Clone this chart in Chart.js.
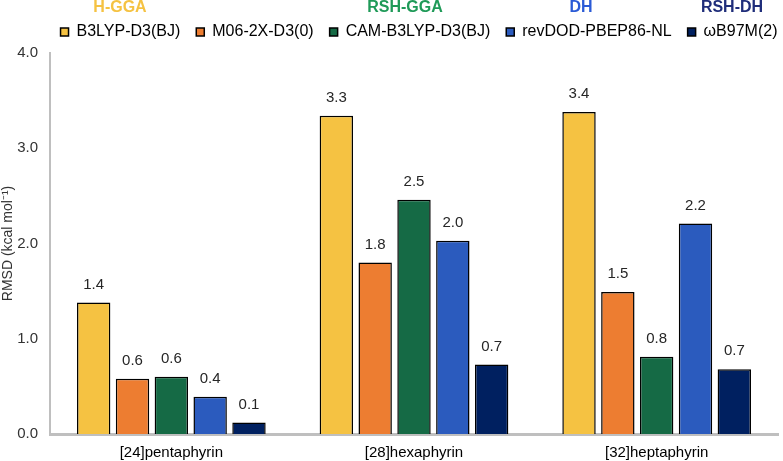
<!DOCTYPE html>
<html>
<head>
<meta charset="utf-8">
<script src="https://cdn.jsdelivr.net/npm/chart.js@4.4.1/dist/chart.umd.min.js"></script>
<style>
  html, body { margin: 0; padding: 0; background: #fff; }
  #wrap { width: 783px; height: 461px; position: relative; }
</style>
</head>
<body>
<div id="wrap"><canvas id="rmsdChart"></canvas></div>
<script>
// data
const categories = ['[24]pentaphyrin', '[28]hexaphyrin', '[32]heptaphyrin'];
const methods = ['B3LYP-D3(BJ)', 'M06-2X-D3(0)', 'CAM-B3LYP-D3(BJ)', 'revDOD-PBEP86-NL', 'ωB97M(2)'];
const b3lyp = [1.38, 3.34, 3.38];
const m062x = [0.58, 1.80, 1.49];
const camb3lyp = [0.60, 2.46, 0.81];
const revdod = [0.39, 2.03, 2.21];
const wb97m = [0.12, 0.73, 0.68];
const yTicks = [0, 1, 2, 3, 4];
const families = ['H-GGA', 'RSH-GGA', 'DH', 'RSH-DH'];

const barColors = ['#F5C242', '#ED7D31', '#156A45', '#2B5BBE', '#002060'];
const familyColors = ['#F5C242', '#1F9A58', '#2B5BD6', '#1F2D7A'];
const familyX = [120, 405, 581, 732];

const seriesValues = [b3lyp, m062x, camb3lyp, revdod, wb97m];
const FONT = 'Liberation Sans, Arial, sans-serif';

// value labels above each bar
const valueLabels = {
  id: 'valueLabels',
  afterDatasetsDraw(chart) {
    const ctx = chart.ctx;
    ctx.save();
    ctx.font = '15px ' + FONT;
    ctx.fillStyle = '#262626';
    ctx.textAlign = 'center';
    ctx.textBaseline = 'middle';
    chart.data.datasets.forEach(function (ds, i) {
      chart.getDatasetMeta(i).data.forEach(function (bar, j) {
        ctx.fillText(ds.data[j].toFixed(1), bar.x, bar.y - 18);
      });
    });
    ctx.restore();
  }
};

// functional family headings over the legend
const familyHeaders = {
  id: 'familyHeaders',
  afterDraw(chart) {
    const ctx = chart.ctx;
    ctx.save();
    ctx.font = 'bold 16px ' + FONT;
    ctx.textAlign = 'center';
    ctx.textBaseline = 'middle';
    families.forEach(function (name, i) {
      ctx.fillStyle = familyColors[i];
      ctx.fillText(name, familyX[i], 8);
    });
    ctx.restore();
  }
};

// fixed legend height and a small shift to the right
const legendBox = {
  id: 'legendBox',
  beforeInit(chart) {
    const fit = chart.legend.fit;
    chart.legend.fit = function () {
      fit.bind(chart.legend)();
      this.height = 45;
    };
  },
  afterLayout(chart) {
    chart.legend.left += 30;
    chart.legend.right += 30;
  }
};

const ctx = document.getElementById('rmsdChart').getContext('2d');
const rmsdChart = new Chart(ctx, {
  type: 'bar',
  data: {
    labels: categories,
    datasets: methods.map(function (m, i) {
      return {
        label: m,
        data: seriesValues[i],
        backgroundColor: barColors[i],
        borderColor: '#000000',
        borderWidth: 1.5,
        borderSkipped: 'bottom',
        categoryPercentage: 0.8,
        barPercentage: 0.86
      };
    })
  },
  options: {
    responsive: true,
    maintainAspectRatio: false,
    animation: false,
    layout: { padding: { top: 8, right: 5, bottom: 0, left: 0 } },
    plugins: {
      legend: {
        position: 'top',
        labels: {
          boxWidth: 8,
          boxHeight: 8,
          padding: 16,
          color: '#000',
          font: { family: FONT, size: 16 }
        }
      },
      tooltip: { enabled: false }
    },
    scales: {
      x: {
        grid: { display: false, drawTicks: false },
        border: { color: '#BFBFBF', width: 3 },
        ticks: { color: '#000', padding: 10, font: { family: FONT, size: 15 } },
        afterFit(scale) { scale.height = 27; }
      },
      y: {
        min: 0,
        max: 4,
        afterBuildTicks(scale) { scale.ticks = yTicks.map(function (v) { return { value: v }; }); },
        grid: { display: false, drawTicks: false },
        border: { color: '#BFBFBF', width: 2 },
        ticks: {
          color: '#333',
          padding: 12,
          font: { family: FONT, size: 15 },
          callback: function (v) { return v.toFixed(1); }
        },
        title: {
          display: true,
          text: 'RMSD (kcal mol⁻¹)',
          color: '#333',
          padding: { top: 0, bottom: 0 },
          font: { family: FONT, size: 14 }
        },
        afterFit(scale) { scale.width = 50; }
      }
    }
  },
  plugins: [valueLabels, familyHeaders, legendBox]
});
</script>
</body>
</html>
